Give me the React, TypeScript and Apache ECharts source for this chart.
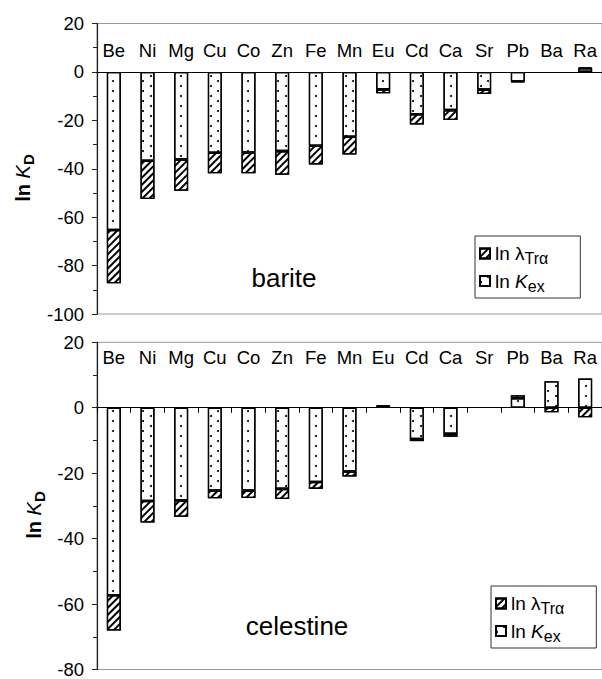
import React, { useEffect, useRef } from "react";
import * as echarts from "echarts";

const categories = ["Be", "Ni", "Mg", "Cu", "Co", "Zn", "Fe", "Mn", "Eu", "Cd", "Ca", "Sr", "Pb", "Ba", "Ra"];
// barite: ln Kex (dotted) and ln lambda_Tr_alpha (hatched), stacked
const bariteKex = [-65.3, -36.7, -36.2, -33.4, -33.3, -32.7, -30.5, -26.8, -7.2, -17.5, -15.8, -7.3, -4.0, null, 1.5];
const bariteLambda = [-22.0, -15.8, -12.9, -8.5, -8.6, -9.8, -7.7, -7.3, -1.6, -4.2, -4.1, -1.8, -0.3, null, 0.4];
// celestine
const celestineKex = [-57.3, -28.5, -28.3, -25.3, -25.3, -24.8, -22.7, -19.5, 0.5, -9.6, -8.0, null, 2.9, 8.1, 8.9];
const celestineLambda = [-10.8, -6.6, -5.0, -2.4, -2.3, -3.1, -2.1, -1.5, 0.3, -0.6, -0.9, null, 0.9, -1.4, -2.9];

const bariteTicks = { min: -100, max: 20, interval: 20 };
const celestineTicks = { min: -80, max: 20, interval: 20 };

const FONT = "Liberation Sans, Arial, sans-serif";

export default function App() {
  const ref = useRef<HTMLDivElement>(null);
  useEffect(() => {
    document.body.style.margin = "0";
    const chart = echarts.init(ref.current!, null, { renderer: "svg" });

    const hatch = {
      symbol: "rect",
      symbolSize: 1,
      color: "#000",
      backgroundColor: "#fff",
      dashArrayX: [1, 0],
      dashArrayY: [1.1, 2.6],
      rotation: -Math.PI / 4,
    };
    const dots = {
      symbol: "circle",
      symbolSize: 1,
      color: "#000",
      backgroundColor: "#fff",
      dashArrayX: [[1.5, 12.5], [0, 7, 1.5, 5.5]],
      dashArrayY: [1.5, 3],
    };

    const barStyle = (decal: any) => ({
      color: "#fff",
      borderColor: "#000",
      borderWidth: 1.3,
      decal,
    });

    const grids = [
      { left: 97, top: 23.5, width: 507, height: 290.5 },
      { left: 97, top: 342.3, width: 513, height: 333.7 },
    ];

    const yAxisBase = (idx: number, t: any) => ({
      type: "value",
      gridIndex: idx,
      min: t.min,
      max: t.max,
      interval: t.interval,
      splitLine: { show: false },
      axisLine: { show: true, lineStyle: { color: "#222", width: 1.2 } },
      axisTick: { show: true, length: 5, lineStyle: { color: "#222" } },
      minorTick: { show: true, splitNumber: 2, length: 4, lineStyle: { color: "#222" } },
      axisLabel: { fontSize: 18.5, color: "#000", fontFamily: FONT, margin: 13 },
    });

    const zeroAxis = (idx: number, ticks: boolean) => ({
      type: "category",
      gridIndex: idx,
      data: categories,
      axisLine: { show: true, onZero: true, lineStyle: { color: "#000", width: 1 } },
      axisTick: { show: ticks, length: 5, alignWithLabel: false, lineStyle: { color: "#000" } },
      axisLabel: { show: false },
    });

    const labelAxis = (idx: number, margin: number) => ({
      type: "category",
      gridIndex: idx,
      position: "top",
      data: categories,
      axisLine: { show: false, onZero: false },
      axisTick: { show: false },
      axisLabel: { show: true, inside: true, margin, fontSize: 18.5, color: "#000", fontFamily: FONT },
    });

    const legendText = {
      fontSize: 19,
      color: "#000",
      fontFamily: FONT,
      rich: {
        n: { fontSize: 19, fontFamily: FONT, color: "#000" },
        i: { fontSize: 19, fontStyle: "italic", fontFamily: FONT, color: "#000" },
        s: { fontSize: 16, fontFamily: FONT, color: "#000", padding: [10, 0, 0, 0] },
      },
    };
    const legendFormatter = (name: string) =>
      name === "lambda" ? "{n|ln λ}{s|Trα}" : "{n|ln }{i|K}{s|ex}";
    const legendBase = (left: number, top: number) => ({
      data: ["lambda", "kex"],
      orient: "vertical",
      left,
      top,
      icon: "rect",
      itemWidth: 10,
      itemHeight: 10,
      itemGap: 5,
      padding: [8, 32, 4, 4],
      borderColor: "#333",
      borderWidth: 1,
      backgroundColor: "#fff",
      formatter: legendFormatter,
      textStyle: legendText,
      selectedMode: false,
    });

    const yTitle = (x: number, y: number) => ({
      type: "text",
      x,
      y,
      rotation: Math.PI / 2,
      style: {
        text: "{a|ln }{b|K}{c|D}",
        align: "center",
        verticalAlign: "middle",
        rich: {
          a: { fontSize: 20, fontWeight: "bold", fontFamily: FONT, fill: "#000" },
          b: { fontSize: 20, fontStyle: "italic", fontFamily: FONT, fill: "#000" },
          c: { fontSize: 15, fontWeight: "bold", fontFamily: FONT, fill: "#000", padding: [10, 0, 0, 0] },
        },
      },
    });

    const option: any = {
      animation: false,
      backgroundColor: "#fff",
      grid: grids.map((g) => ({ ...g, show: true, borderColor: "#999", borderWidth: 1, backgroundColor: "transparent" })),
      xAxis: [zeroAxis(0, false), zeroAxis(1, true), labelAxis(0, 17), labelAxis(1, 6)],
      yAxis: [yAxisBase(0, bariteTicks), yAxisBase(1, celestineTicks)],
      legend: [legendBase(475, 236), legendBase(491, 586)],
      series: [
        { type: "bar", name: "kex", xAxisIndex: 0, yAxisIndex: 0, stack: "barite", barWidth: 14, data: bariteKex, itemStyle: barStyle(dots) },
        { type: "bar", name: "lambda", xAxisIndex: 0, yAxisIndex: 0, stack: "barite", barWidth: 14, data: bariteLambda, itemStyle: barStyle(hatch) },
        { type: "bar", name: "kex", xAxisIndex: 1, yAxisIndex: 1, stack: "celestine", barWidth: 14, data: celestineKex, itemStyle: barStyle(dots) },
        { type: "bar", name: "lambda", xAxisIndex: 1, yAxisIndex: 1, stack: "celestine", barWidth: 14, data: celestineLambda, itemStyle: barStyle(hatch) },
      ],
      graphic: [
        yTitle(23, 178),
        yTitle(34, 515),
        { type: "text", x: 284, y: 278, style: { text: "barite", fontSize: 26, fontFamily: FONT, fill: "#000", align: "center", verticalAlign: "middle" } },
        { type: "text", x: 297, y: 626, style: { text: "celestine", fontSize: 26, fontFamily: FONT, fill: "#000", align: "center", verticalAlign: "middle" } },
      ],
    };
    chart.setOption(option);
    return () => chart.dispose();
  }, []);
  return <div ref={ref} style={{ width: 602, height: 679 }} />;
}
